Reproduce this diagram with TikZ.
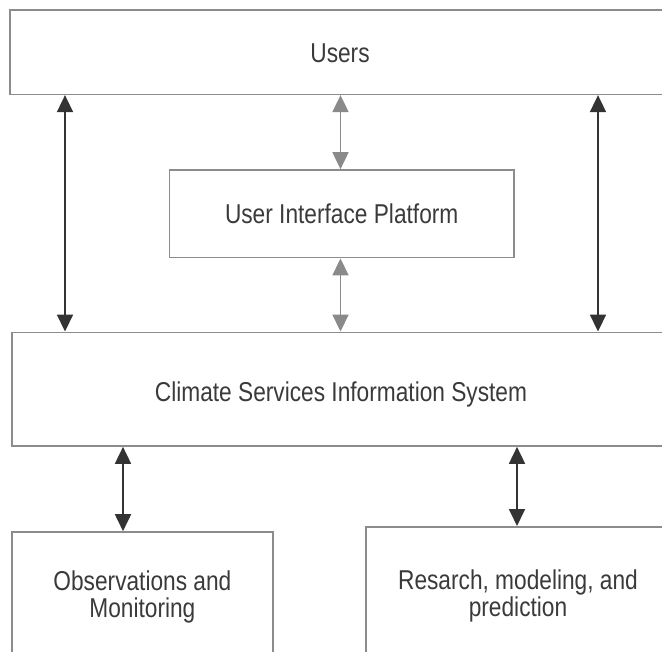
\documentclass[tikz,border=0pt]{standalone}
\usepackage{fontspec}
\setmainfont{Liberation Sans}
\usetikzlibrary{arrows.meta}
\definecolor{boxgray}{HTML}{8C8C8C}
\definecolor{darkarr}{HTML}{333333}
\definecolor{grayarr}{HTML}{8A8A8A}
\definecolor{txt}{HTML}{3A3A3A}
\newcommand{\tallt}[1]{\scalebox{1}[1.2]{#1}}
\begin{document}
\begin{tikzpicture}[x=1pt,y=-1pt,
  blk/.style={draw=boxgray,line width=1.6pt,rectangle,inner sep=0pt},
  lbl/.style={inner sep=0pt,align=center,text=txt,font=\fontsize{22.7}{26.5}\selectfont},
  darrow/.style={draw=darkarr,line width=1.8pt,{Triangle[length=17pt,width=16pt]}-{Triangle[length=17pt,width=16pt]}},
  garrow/.style={draw=grayarr,line width=1.8pt,{Triangle[length=17pt,width=16pt]}-{Triangle[length=17pt,width=16pt]}}]
\useasboundingbox (0,0) rectangle (662,652);
\clip (0,0) rectangle (662,652);
\node[blk,minimum width=660pt,minimum height=84.3pt] (users) at (340,52.2) {};
\node[blk,minimum width=344.7pt,minimum height=87.7pt] (uip) at (341.7,213.8) {};
\node[blk,minimum width=658pt,minimum height=113.7pt] (csis) at (341,389.2) {};
\node[blk,minimum width=260.7pt,minimum height=124pt] (obs) at (142.4,594) {};
\node[blk,minimum width=304pt,minimum height=133pt] (res) at (518,593.3) {};
\node[lbl] (userst) at ([yshift=-1pt]users.center) {\tallt{Users}};
\node[lbl] (uipt) at (uip.center) {\tallt{User Interface Platform}};
\node[lbl] (csist) at ([yshift=-5pt]csis.center) {\tallt{Climate Services Information System}};
\node[lbl] (obst) at ([yshift=-3pt]obs.center) {\tallt{Observations and}\\\tallt{Monitoring}};
\node[lbl] (rest) at ([yshift=-2.5pt]res.center) {\tallt{Resarch, modeling, and}\\\tallt{prediction}};
\coordinate (xl) at (65,0);
\coordinate (xm) at (340.5,0);
\coordinate (xr) at (598,0);
\coordinate (xbl) at (123,0);
\coordinate (xbr) at (517,0);
\draw[darrow] (users.south -| xl) -- (csis.north -| xl);
\draw[darrow] (users.south -| xr) -- (csis.north -| xr);
\draw[garrow] (users.south -| xm) -- (uip.north -| xm);
\draw[garrow] (uip.south -| xm) -- (csis.north -| xm);
\draw[darrow] (csis.south -| xbl) -- (obs.north -| xbl);
\draw[darrow] (csis.south -| xbr) -- (res.north -| xbr);
\end{tikzpicture}
\end{document}
